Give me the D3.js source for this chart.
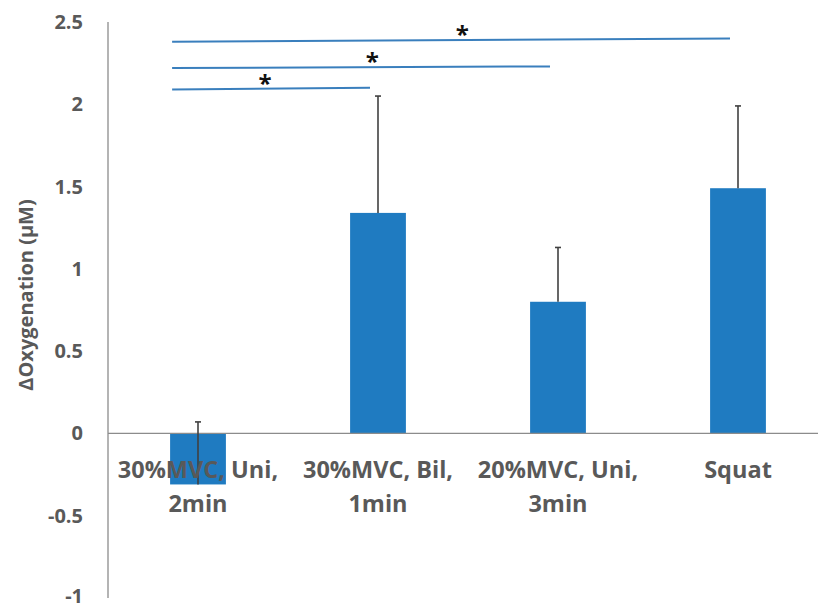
<!DOCTYPE html>
<html>
<head>
<meta charset="utf-8">
<script src="https://cdn.jsdelivr.net/npm/d3@7"></script>
<style>
  body { margin: 0; background: #fff; }
  text { font-family: "Open Sans", "Liberation Sans", sans-serif; font-weight: bold; fill: #595959; }
</style>
</head>
<body>
<svg id="chart" width="818" height="608"></svg>
<script>
// data
const categories = ["30%MVC, Uni, 2min", "30%MVC, Bil, 1min", "20%MVC, Uni, 3min", "Squat"];
const catLines = [["30%MVC, Uni,", "2min"], ["30%MVC, Bil,", "1min"], ["20%MVC, Uni,", "3min"], ["Squat"]];
const values = [-0.31, 1.34, 0.80, 1.49];
const errors = [0.38, 0.71, 0.33, 0.50];
const yTicks = [-1, -0.5, 0, 0.5, 1, 1.5, 2, 2.5];

// significance brackets: from first bar to target bar
const sigTargets = [1, 2, 3];
const sigYLeft = [2.09, 2.22, 2.38];
const sigYRight = [2.10, 2.23, 2.40];

const svg = d3.select("#chart");
const margin = {left: 108, right: 0, top: 22, bottom: 10};
const W = 818, H = 608;

const x = d3.scaleBand()
  .domain(categories)
  .range([margin.left, 828])
  .paddingInner(0.69)
  .paddingOuter(0.345);

const y = d3.scaleLinear()
  .domain([-1, 2.5])
  .range([598, margin.top]);

// y axis line + labels
svg.append("line")
  .attr("x1", margin.left).attr("x2", margin.left)
  .attr("y1", y(2.5)).attr("y2", y(-1))
  .attr("stroke", "#8c8c8c").attr("stroke-width", 1.3);

svg.selectAll(".ytick")
  .data(yTicks)
  .enter()
  .append("text")
  .attr("class", "ytick")
  .attr("x", 83)
  .attr("y", d => y(d))
  .attr("dy", d => d === -1 ? "0.25em" : "0.35em")
  .attr("text-anchor", "end")
  .style("font-size", "20px")
  .text(d => d);

svg.append("text")
  .attr("transform", `translate(33,295) rotate(-90)`)
  .attr("text-anchor", "middle")
  .style("font-size", "20px")
  .text("ΔOxygenation (μM)");

// bars
svg.selectAll("rect.bar")
  .data(values)
  .enter()
  .append("rect")
  .attr("class", "bar")
  .attr("x", (d, i) => x(categories[i]))
  .attr("width", x.bandwidth())
  .attr("y", d => y(Math.max(0, d)))
  .attr("height", d => Math.abs(y(d) - y(0)))
  .attr("fill", "#1f7bc1");

// zero line
svg.append("line")
  .attr("x1", margin.left).attr("x2", W)
  .attr("y1", y(0)).attr("y2", y(0))
  .attr("stroke", "#8c8c8c").attr("stroke-width", 1.3);

// error bars (plus direction)
const eb = svg.selectAll("g.err")
  .data(values)
  .enter()
  .append("g")
  .attr("class", "err")
  .attr("transform", (d, i) => `translate(${x(categories[i]) + x.bandwidth() / 2},0)`);

eb.append("line")
  .attr("y1", d => y(d))
  .attr("y2", (d, i) => y(d + errors[i]))
  .attr("stroke", "#404040").attr("stroke-width", 1.6);

eb.append("line")
  .attr("x1", -3).attr("x2", 3)
  .attr("y1", (d, i) => y(d + errors[i]))
  .attr("y2", (d, i) => y(d + errors[i]))
  .attr("stroke", "#404040").attr("stroke-width", 1.6);

// category labels
const labels = svg.selectAll("text.cat")
  .data(catLines)
  .enter()
  .append("text")
  .attr("class", "cat")
  .attr("x", (d, i) => x(categories[i]) + x.bandwidth() / 2)
  .attr("y", 478)
  .attr("text-anchor", "middle")
  .style("font-size", "23.5px");

labels.selectAll("tspan")
  .data(d => d)
  .enter()
  .append("tspan")
  .attr("x", function() { return d3.select(this.parentNode).attr("x"); })
  .attr("dy", (d, i) => i === 0 ? 0 : 34)
  .text(d => d);

// significance lines
const sig = svg.selectAll("g.sig")
  .data(sigTargets)
  .enter()
  .append("g")
  .attr("class", "sig");

const sigX1 = x(categories[0]) + 2;
const sigX2 = t => x(categories[t]) + x.bandwidth() / 2 - 8;
// star sits a little off the middle of each line, as in the original
const starAt = [0.47, 0.53, 0.52];

sig.append("line")
  .attr("x1", sigX1)
  .attr("x2", d => sigX2(d))
  .attr("y1", (d, i) => y(sigYLeft[i]))
  .attr("y2", (d, i) => y(sigYRight[i]))
  .attr("stroke", "#3a7fbd").attr("stroke-width", 2);

sig.append("text")
  .attr("x", (d, i) => sigX1 + (sigX2(d) - sigX1) * starAt[i])
  .attr("y", (d, i) => y((sigYLeft[i] + sigYRight[i]) / 2) + 3)
  .attr("text-anchor", "middle")
  .style("font-size", "24px")
  .style("fill", "#111")
  .text("*");
</script>
</body>
</html>
